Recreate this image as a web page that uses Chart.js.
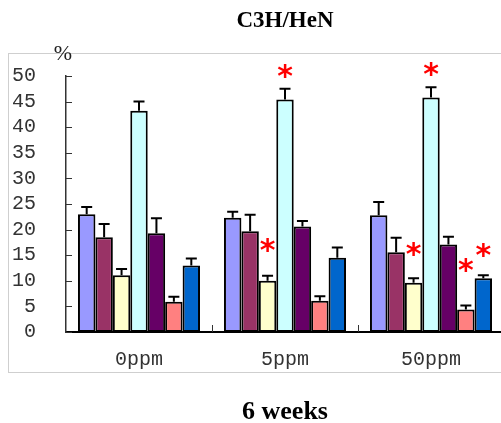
<!DOCTYPE html>
<html>
<head>
<meta charset="utf-8">
<script src="https://cdn.jsdelivr.net/npm/chart.js@4"></script>
<style>
html,body{margin:0;padding:0;background:#fff;overflow:hidden;width:501px;height:423px;}
#wrap{position:absolute;left:0;top:0;width:505px;height:428px;}
</style>
</head>
<body>
<div id="wrap"><canvas id="c" width="505" height="428"></canvas></div>
<script>
const categories = ['0ppm', '5ppm', '50ppm'];
const yTicks = [0, 5, 10, 15, 20, 25, 30, 35, 40, 45, 50];

const s1 = [23.0, 22.3, 22.8];
const s2 = [18.5, 19.7, 15.6];
const s3 = [11.1, 10.0, 9.6];
const s4 = [43.2, 45.4, 45.8];
const s5 = [19.3, 20.6, 17.1];
const s6 = [5.9, 6.1, 4.4];
const s7 = [13.0, 14.5, 10.5];

const e1 = [1.4, 1.2, 2.6];
const e2 = [2.6, 3.2, 2.8];
const e3 = [1.2, 1.0, 0.9];
const e4 = [1.8, 2.1, 2.0];
const e5 = [2.9, 1.1, 1.5];
const e6 = [1.0, 0.9, 0.8];
const e7 = [1.35, 2.0, 0.6];

// asterisk positions (in % units), null = none
const star1 = [null, null, null];
const star2 = [null, null, null];
const star3 = [null, 16.8, 16.2];
const star4 = [null, 50.8, 51.2];
const star5 = [null, null, null];
const star6 = [null, null, 12.9];
const star7 = [null, null, 16.0];

const colors = ['#9999FF', '#993366', '#FFFFCC', '#CCFFFF', '#660066', '#FF8080', '#0066CC'];
const seriesVals = [s1, s2, s3, s4, s5, s6, s7];
const seriesErr = [e1, e2, e3, e4, e5, e6, e7];
const seriesStar = [star1, star2, star3, star4, star5, star6, star7];

const datasets = seriesVals.map((v, i) => ({
  data: v,
  backgroundColor: colors[i],
  borderColor: '#000',
  borderWidth: 2,
  borderSkipped: false,
  categoryPercentage: 0.836,
  barPercentage: 1.0,
  errors: seriesErr[i],
  stars: seriesStar[i]
}));

const decor = {
  id: 'decor',
  beforeDraw(chart) {
    const ctx = chart.ctx;
    ctx.save();
    ctx.fillStyle = '#fff';
    ctx.fillRect(0, 0, chart.width, chart.height);
    ctx.strokeStyle = '#cfcfcf';
    ctx.lineWidth = 1;
    ctx.strokeRect(8.5, 53.5, chart.width + 20, 319);
    ctx.restore();
  },
  afterDatasetsDraw(chart) {
    const ctx = chart.ctx;
    const ys = chart.scales.y, xs = chart.scales.x;
    const a = chart.chartArea;
    ctx.save();
    // error bars
    ctx.strokeStyle = '#000';
    ctx.lineWidth = 2;
    chart.data.datasets.forEach((ds, i) => {
      const meta = chart.getDatasetMeta(i);
      meta.data.forEach((el, j) => {
        const top = ys.getPixelForValue(ds.data[j] + ds.errors[j]);
        const base = ys.getPixelForValue(ds.data[j]);
        ctx.beginPath();
        ctx.moveTo(el.x, base);
        ctx.lineTo(el.x, top);
        ctx.moveTo(el.x - 5.5, top);
        ctx.lineTo(el.x + 5.5, top);
        ctx.stroke();
      });
    });
    // inward y ticks
    ctx.strokeStyle = '#333';
    ctx.lineWidth = 1;
    yTicks.forEach(v => {
      const y = Math.round(ys.getPixelForValue(v)) + 0.5;
      ctx.beginPath();
      ctx.moveTo(a.left, y);
      ctx.lineTo(a.left + 6, y);
      ctx.stroke();
    });
    // inward x ticks at category boundaries
    for (let k = 1; k < categories.length; k++) {
      const x = Math.round((xs.getPixelForValue(k - 1) + xs.getPixelForValue(k)) / 2) + 0.5;
      ctx.beginPath();
      ctx.moveTo(x, a.bottom);
      ctx.lineTo(x, a.bottom - 7);
      ctx.stroke();
    }
    // asterisks
    ctx.fillStyle = '#FF0000';
    ctx.font = 'bold 30px "DejaVu Sans"';
    ctx.textAlign = 'center';
    ctx.textBaseline = 'alphabetic';
    const m = ctx.measureText('*');
    const off = (m.actualBoundingBoxAscent - m.actualBoundingBoxDescent) / 2;
    chart.data.datasets.forEach((ds, i) => {
      const meta = chart.getDatasetMeta(i);
      meta.data.forEach((el, j) => {
        const sv = ds.stars[j];
        if (sv === null) return;
        const cy = ys.getPixelForValue(sv);
        ctx.fillText('*', el.x, cy + off);
      });
    });
    // % label
    ctx.fillStyle = '#222';
    ctx.font = '22px "Liberation Serif"';
    ctx.textBaseline = 'middle';
    ctx.fillText('%', 63, 54);
    ctx.restore();
  }
};

new Chart(document.getElementById('c'), {
  type: 'bar',
  data: { labels: categories, datasets },
  options: {
    responsive: false,
    devicePixelRatio: 1,
    animation: false,
    layout: { padding: { left: 0, right: 1, top: 0, bottom: 0 } },
    plugins: {
      legend: { display: false },
      tooltip: { enabled: false },
      title: {
        display: true,
        text: 'C3H/HeN',
        fullSize: false,
        color: '#000',
        font: { family: '"Liberation Serif"', size: 23, weight: 'bold' },
        padding: { top: 7, bottom: 41.4 }
      }
    },
    scales: {
      x: {
        grid: { display: false, drawTicks: false },
        border: { display: true, color: '#000', width: 2 },
        ticks: { color: '#333', padding: 16, font: { family: '"Liberation Mono"', size: 20 } },
        title: {
          display: true,
          text: '6 weeks',
          color: '#000',
          font: { family: '"Liberation Serif"', size: 26, weight: 'bold' },
          padding: { top: 8.8, bottom: 0 }
        }
      },
      y: {
        min: 0, max: 50,
        afterBuildTicks(scale) { scale.ticks = yTicks.map(v => ({ value: v })); },
        afterFit(scale) { scale.width = 66; },
        grid: { display: false, drawTicks: false },
        border: { display: true, color: '#333', width: 1.5 },
        ticks: { color: '#333', padding: 30, autoSkip: false, font: { family: '"Liberation Mono"', size: 20 } }
      }
    }
  },
  plugins: [decor]
});
</script>
</body>
</html>
